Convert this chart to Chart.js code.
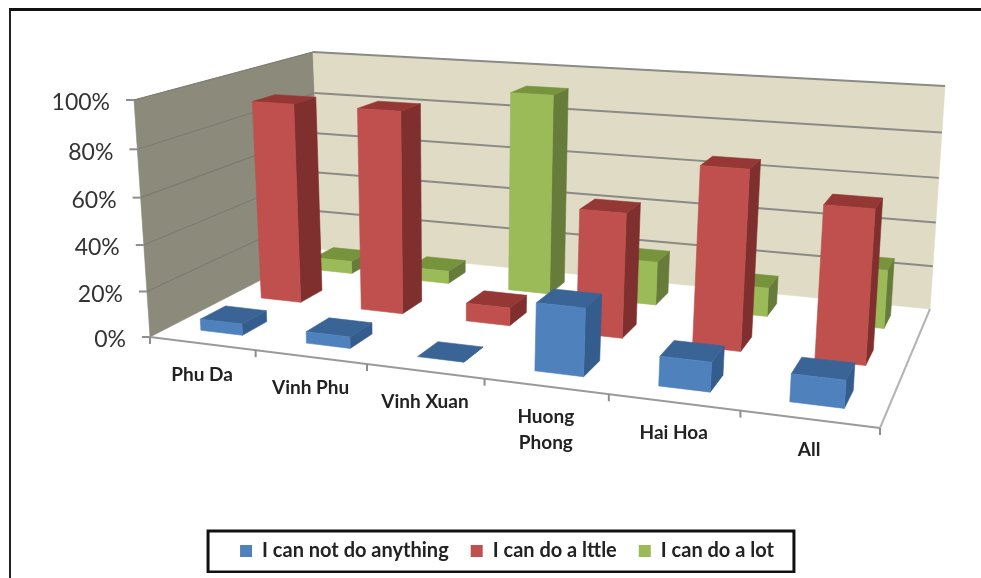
<!DOCTYPE html>
<html>
<head>
<meta charset="utf-8">
<title>Chart</title>
<script src="https://cdn.jsdelivr.net/npm/chart.js@4/dist/chart.umd.min.js"></script>
<style>
html, body { margin: 0; padding: 0; background: #fff; overflow: hidden; height: 578px; }
#frame { position: absolute; left: 9px; top: 8px; right: -5px; height: 600px; border-top: 3px solid #111; border-left: 2px solid #222; }
#wrap { position: absolute; left: 0; top: 0; width: 981px; height: 573px; }
</style>
</head>
<body>
<div id="frame"></div>
<div id="wrap"><canvas id="chart"></canvas></div>
<script>
var categories = [['Phu Da'], ['Vinh Phu'], ['Vinh Xuan'], ['Huong', 'Phong'], ['Hai Hoa'], ['All']];
var seriesNames = ['I can not do anything', 'I can do a lttle', 'I can do a lot'];
var nothing = [5, 5, 0, 28, 12, 11];
var little = [90, 90, 8, 54, 76, 64];
var lot = [6, 6, 92, 20, 13, 26];

// front, side and top shade of each series
var frontColors = ['#4F81BD', '#C0504D', '#9BBB59'];
var sideColors = ['#345C8C', '#7F2F2D', '#677C3B'];
var topColors = ['#3A6496', '#953735', '#77933C'];

// corners of the 3d box on screen: front left, front right, back right, back left
var floorQuad = [[150, 337], [880, 428], [930, 309], [321, 249]];
var roofQuad = [[134, 100], [897, 150], [945, 86], [313, 52]];
var barDepth = 0.4;

// square to quad mapping
function makeHomography(q) {
    var x0 = q[0][0], y0 = q[0][1], x1 = q[1][0], y1 = q[1][1];
    var x2 = q[2][0], y2 = q[2][1], x3 = q[3][0], y3 = q[3][1];
    var sx = x0 - x1 + x2 - x3, sy = y0 - y1 + y2 - y3;
    var dx1 = x1 - x2, dx2 = x3 - x2, dy1 = y1 - y2, dy2 = y3 - y2;
    var den = dx1 * dy2 - dx2 * dy1;
    var g = (sx * dy2 - dx2 * sy) / den;
    var h = (dx1 * sy - sx * dy1) / den;
    var a = x1 - x0 + g * x1, b = x3 - x0 + h * x3;
    var d = y1 - y0 + g * y1, e = y3 - y0 + h * y3;
    return function(u, v) {
        var w = g * u + h * v + 1;
        return [(a * u + b * v + x0) / w, (d * u + e * v + y0) / w];
    };
}

var floorMap = makeHomography(floorQuad);
var roofMap = makeHomography(roofQuad);

// u along the categories, v into the depth, w up the value axis (all 0..1)
function project(u, v, w) {
    var p = floorMap(u, v), t = roofMap(u, v);
    // the top of the box is nearer the camera, so heights stretch a little going up
    var k = w * (1 - 0.05 * (1 - w));
    return [p[0] + (t[0] - p[0]) * k, p[1] + (t[1] - p[1]) * k];
}

function fillPoly(ctx, pts, color) {
    ctx.beginPath();
    ctx.moveTo(pts[0][0], pts[0][1]);
    for (var i = 1; i < pts.length; i++) {
        ctx.lineTo(pts[i][0], pts[i][1]);
    }
    ctx.closePath();
    ctx.fillStyle = color;
    ctx.fill();
    ctx.strokeStyle = color;
    ctx.lineWidth = 0.6;
    ctx.stroke();
}

function drawLine(ctx, a, b, color, width) {
    ctx.beginPath();
    ctx.moveTo(a[0], a[1]);
    ctx.lineTo(b[0], b[1]);
    ctx.strokeStyle = color;
    ctx.lineWidth = width;
    ctx.stroke();
}

function drawWalls(chart) {
    var ctx = chart.ctx, yScale = chart.scales.y, xScale = chart.scales.x;
    var area = chart.chartArea;

    fillPoly(ctx, [project(0, 0, 0), project(0, 1, 0), project(0, 1, 1), project(0, 0, 1)], '#8C8A7B');
    fillPoly(ctx, [project(0, 1, 0), project(1, 1, 0), project(1, 1, 1), project(0, 1, 1)], '#DFDBC4');

    // value gridlines, ticks and labels
    ctx.font = '23px Lato';
    ctx.textAlign = 'right';
    ctx.textBaseline = 'middle';
    yScale.ticks.forEach(function(tick) {
        var w = (area.bottom - yScale.getPixelForValue(tick.value)) / (area.bottom - area.top);
        var corner = project(0, 1, w), front = project(0, 0, w);
        if (w > 0) {
            drawLine(ctx, corner, project(1, 1, w), '#8A8A86', 2);
            drawLine(ctx, front, corner, '#7C7B72', 1.2);
        }
        drawLine(ctx, [front[0] - 8, front[1]], front, '#8E8E8E', 2);
        ctx.fillStyle = '#333';
        ctx.fillText(tick.label, front[0] - 24, front[1] + 3);
    });

    // floor edges
    drawLine(ctx, project(0, 0, 0), project(1, 0, 0), '#9A9A9A', 2);
    drawLine(ctx, project(1, 0, 0), project(1, 1, 0), '#B4B4B4', 2);

    // category ticks and labels
    ctx.font = 'bold 19px Lato';
    ctx.textAlign = 'center';
    var n = chart.data.labels.length;
    for (var i = 0; i <= n; i++) {
        var p = project(i / n, 0, 0);
        drawLine(ctx, p, [p[0], p[1] + 7], '#8E8E8E', 2);
    }
    chart.data.labels.forEach(function(lines, i) {
        var u = (xScale.getPixelForValue(i) - area.left) / (area.right - area.left);
        var p = project(u, 0, 0);
        ctx.fillStyle = '#222';
        lines.forEach(function(line, k) {
            ctx.fillText(line, p[0], p[1] + 31 + k * 26);
        });
    });
}

function drawBars(chart) {
    var ctx = chart.ctx, area = chart.chartArea;
    var nSeries = chart.data.datasets.length;
    // back row first, left to right, so nearer boxes cover farther ones
    for (var s = nSeries - 1; s >= 0; s--) {
        var elements = chart.getDatasetMeta(s).data;
        var v0 = (s + 0.5 - barDepth / 2) / nSeries;
        var v1 = (s + 0.5 + barDepth / 2) / nSeries;
        for (var i = 0; i < elements.length; i++) {
            var bar = elements[i];
            var u0 = (bar.x - bar.width / 2 - area.left) / (area.right - area.left);
            var u1 = (bar.x + bar.width / 2 - area.left) / (area.right - area.left);
            var w = (area.bottom - bar.y) / (area.bottom - area.top);
            fillPoly(ctx, [project(u1, v0, 0), project(u1, v1, 0), project(u1, v1, w), project(u1, v0, w)], sideColors[s]);
            fillPoly(ctx, [project(u0, v0, w), project(u1, v0, w), project(u1, v1, w), project(u0, v1, w)], topColors[s]);
            if (w > 0) {
                fillPoly(ctx, [project(u0, v0, 0), project(u1, v0, 0), project(u1, v0, w), project(u0, v0, w)], frontColors[s]);
            }
        }
    }
}

// walls and boxes replace the flat bars
var scenePlugin = {
    id: 'scene',
    beforeDatasetsDraw: function(chart) {
        drawWalls(chart);
        drawBars(chart);
        return false;
    },
    afterDraw: function(chart) {
        var boxes = chart.legend.legendHitBoxes;
        var first = boxes[0], last = boxes[boxes.length - 1];
        var mid = first.top + first.height / 2;
        var ctx = chart.ctx;
        ctx.strokeStyle = '#111';
        ctx.lineWidth = 3;
        ctx.strokeRect(first.left - 32, mid - 20, last.left + last.width + 20 - first.left + 32, 41);
    }
};

new Chart(document.getElementById('chart'), {
    type: 'bar',
    data: {
        labels: categories,
        datasets: [
            { label: seriesNames[0], data: nothing, backgroundColor: frontColors[0] },
            { label: seriesNames[1], data: little, backgroundColor: frontColors[1] },
            { label: seriesNames[2], data: lot, backgroundColor: frontColors[2] }
        ]
    },
    options: {
        responsive: true,
        maintainAspectRatio: false,
        animation: false,
        layout: { padding: { left: 33, bottom: 2 } },
        datasets: { bar: { grouped: false, categoryPercentage: 1, barPercentage: 0.4 } },
        scales: {
            x: { display: false },
            y: {
                display: false,
                min: 0,
                max: 100,
                ticks: { stepSize: 20, callback: function(v) { return v + '%'; } }
            }
        },
        plugins: {
            tooltip: { enabled: false },
            legend: {
                position: 'bottom',
                labels: {
                    boxWidth: 12,
                    boxHeight: 12,
                    padding: 22,
                    color: '#222',
                    font: { family: 'Lato', size: 20, weight: 'bold' }
                }
            }
        }
    },
    plugins: [scenePlugin]
});
</script>
</body>
</html>
